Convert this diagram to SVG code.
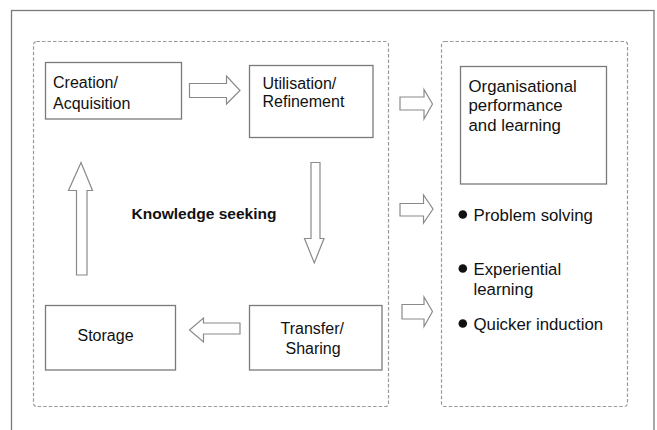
<svg xmlns="http://www.w3.org/2000/svg" width="657" height="430" viewBox="0 0 657 430">
<style>
.box{fill:#fff;stroke:#7a7a7a;stroke-width:1.3}
.grp{fill:none;stroke:#9a9a9a;stroke-width:1.2;stroke-dasharray:3.5 2}
.arr{fill:#fff;stroke:#8a8a8a;stroke-width:1.2;stroke-linejoin:miter}
text{font-family:"Liberation Sans",Arial,sans-serif;font-size:16px;fill:#111}
.r{font-size:16.8px}
.b{font-weight:bold;font-size:15.5px}
</style>
<rect width="657" height="430" fill="#fff"/>
<rect x="11.5" y="10.5" width="642.5" height="440" fill="none" stroke="#7a7a7a" stroke-width="1.3"/>
<g id="knowledge-seeking-group">
<rect class="grp" x="33.5" y="41.5" width="355" height="365" rx="3"/>
<text class="b" x="131.5" y="218.5" textLength="145" lengthAdjust="spacingAndGlyphs">Knowledge seeking</text>
</g>
<g id="outcomes-group">
<rect class="grp" x="441.5" y="41.5" width="186" height="365" rx="3"/>
</g>
<g id="creation">
<rect class="box" x="45.5" y="62.5" width="136" height="56.5"/>
<text x="53" y="87.5">Creation/</text>
<text x="53" y="108.5">Acquisition</text>
</g>
<g id="utilisation">
<rect class="box" x="249.5" y="65.5" width="123.5" height="72"/>
<text x="262.5" y="88.5">Utilisation/</text>
<text x="262.5" y="107">Refinement</text>
</g>
<g id="storage">
<rect class="box" x="45.5" y="305.5" width="130" height="64.5"/>
<text x="77.5" y="341">Storage</text>
</g>
<g id="transfer">
<rect class="box" x="249.5" y="305.5" width="132.5" height="64.5"/>
<text x="280.5" y="333.5">Transfer/</text>
<text x="285.5" y="353.5">Sharing</text>
</g>
<g id="org-performance">
<rect class="box" x="460.5" y="66.5" width="146" height="117.5"/>
<text class="r" x="468.5" y="91.5">Organisational</text>
<text class="r" x="468.5" y="111">performance</text>
<text class="r" x="468.5" y="131">and learning</text>
</g>
<g id="problem-solving">
<circle cx="462.8" cy="214.5" r="4.3" fill="#111"/>
<text class="r" x="473.5" y="220.5">Problem solving</text>
</g>
<g id="experiential-learning">
<circle cx="462.8" cy="268.5" r="4.3" fill="#111"/>
<text class="r" x="473.5" y="275">Experiential</text>
<text class="r" x="473.5" y="295">learning</text>
</g>
<g id="quicker-induction">
<circle cx="462.8" cy="323.5" r="4.3" fill="#111"/>
<text class="r" x="473.5" y="329.5">Quicker induction</text>
</g>
<g id="connectors">
<polygon class="arr" points="189.5,83.5 226.5,83.5 226.5,76 240,90.5 226.5,104 226.5,97.5 189.5,97.5"/>
<polygon class="arr" points="311,162.5 320,162.5 320,238.5 324,238.5 314.3,263 304.5,238.5 311,238.5"/>
<polygon class="arr" points="240,323 203.5,323 203.5,318 189.5,330 203.5,342 203.5,334 240,334"/>
<polygon class="arr" points="76.5,275 76.5,190.5 68.5,190.5 81,162.5 92.5,190.5 87,190.5 87,275"/>
<polygon class="arr" points="400,97 424,97 424,89.5 432.5,104 424,119 424,110 400,110"/>
<polygon class="arr" points="400,203.5 423.5,203.5 423.5,195 433,209 423.5,223 423.5,216 400,216"/>
<polygon class="arr" points="402,304.5 424,304.5 424,297 432.5,311.5 424,326.5 424,319 402,319"/>
</g>
</svg>
